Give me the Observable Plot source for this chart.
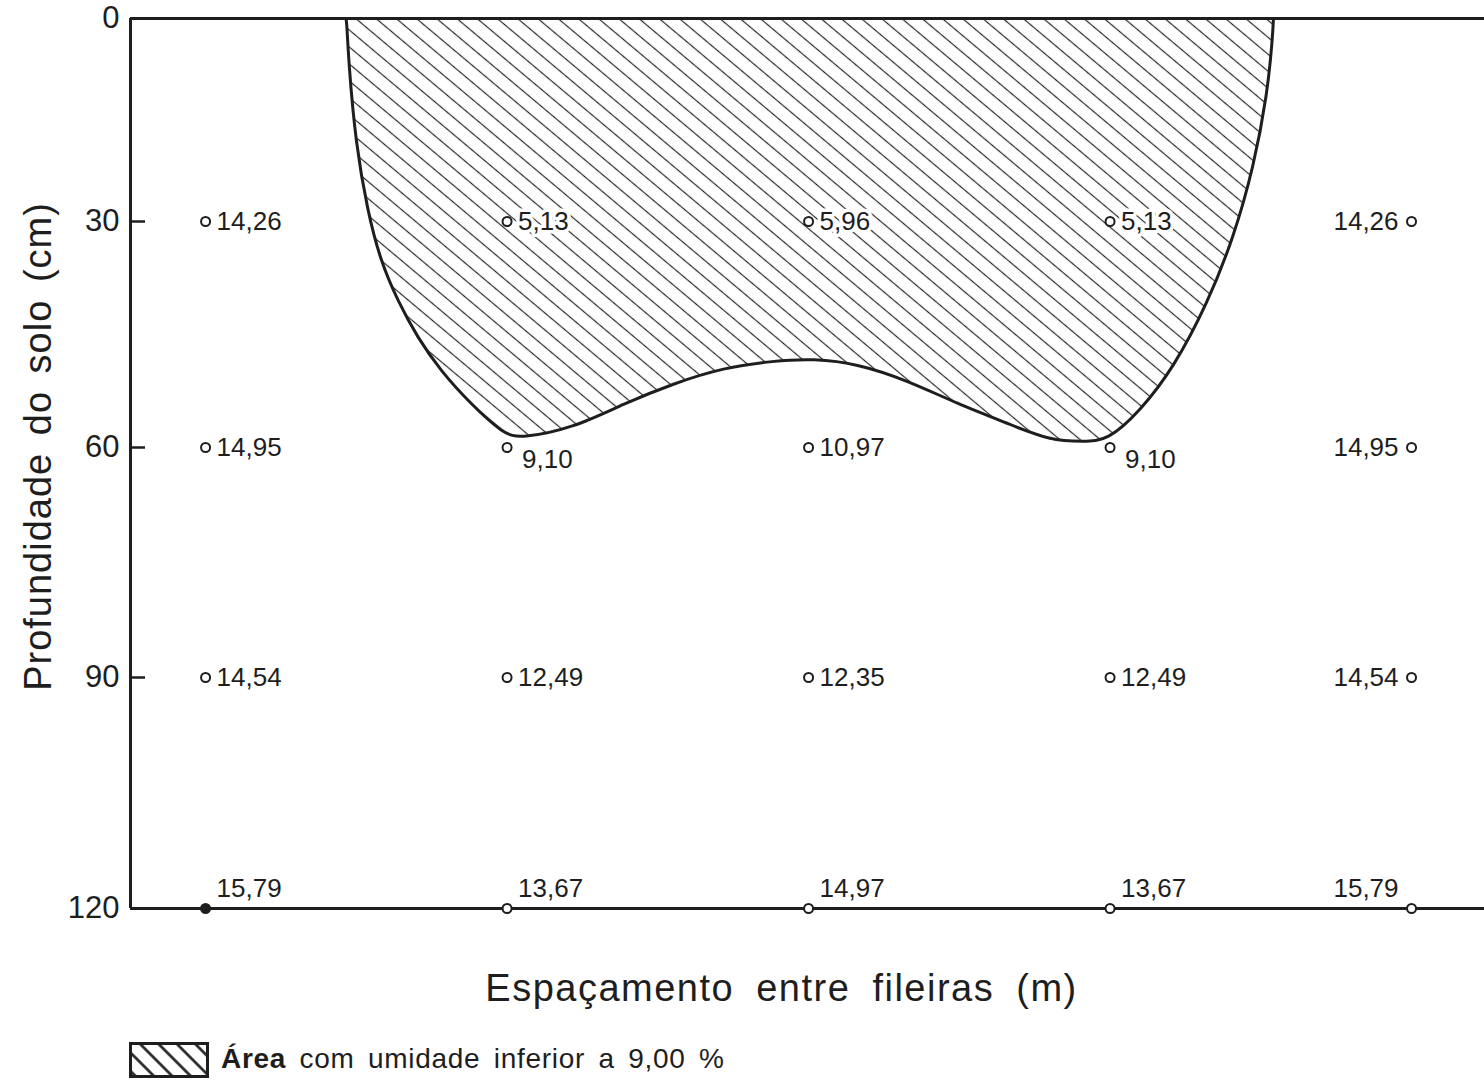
<!DOCTYPE html>
<html>
<head>
<meta charset="utf-8">
<script src="https://cdn.jsdelivr.net/npm/d3@7"></script>
<script src="https://cdn.jsdelivr.net/npm/@observablehq/plot@0.6"></script>
<style>
  html, body { margin: 0; padding: 0; background: #ffffff; }
  #chart { width: 1484px; }
  #legend { position: relative; height: 51px; width: 1484px; font-family: "Liberation Sans", sans-serif; color: #1e1e1e; }
  #legend svg { position: absolute; left: 129px; top: 7px; }
  #legend .txt { position: absolute; left: 221px; top: 8px; font-size: 28px; letter-spacing: 0.7px; word-spacing: 5px; }
</style>
</head>
<body>
<svg width="0" height="0" style="position:absolute">
  <defs>
    <pattern id="hatch" patternUnits="userSpaceOnUse" width="13" height="13" patternTransform="rotate(40)">
      <rect width="13" height="13" fill="#ffffff"></rect>
      <line x1="0" y1="6.5" x2="13" y2="6.5" stroke="#2a2a2a" stroke-width="1.2"></line>
    </pattern>
    <pattern id="hatchLegend" patternUnits="userSpaceOnUse" width="13" height="13" patternTransform="rotate(45)">
      <rect width="13" height="13" fill="#ffffff"></rect>
      <line x1="0" y1="6.5" x2="13" y2="6.5" stroke="#1e1e1e" stroke-width="2.6"></line>
    </pattern>
  </defs>
</svg>
<div id="chart"></div>
<div id="legend">
  <svg width="80" height="36"><rect x="1.5" y="1.5" width="77" height="33" fill="url(#hatchLegend)" stroke="#1e1e1e" stroke-width="3"></rect></svg>
  <div class="txt"><b>Área</b> com umidade inferior a 9,00 %</div>
</div>
<script>
// Posições ao longo do espaçamento entre fileiras (colunas de amostragem)
const posicoes = [0, 1, 2, 3, 4];
// Profundidades amostradas (cm)
const profundidades = [30, 60, 90, 120];
// Umidade do solo (%) em cada profundidade, por posição
const umidade30 = [14.26, 5.13, 5.96, 5.13, 14.26];
const umidade60 = [14.95, 9.10, 10.97, 9.10, 14.95];
const umidade90 = [14.54, 12.49, 12.35, 12.49, 14.54];
const umidade120 = [15.79, 13.67, 14.97, 13.67, 15.79];
// Ticks do eixo de profundidade
const ticksProf = [0, 30, 60, 90, 120];
// Limite da área com umidade inferior a 9,00 % (posição, profundidade)
const limitePos = [0.464, 0.468, 0.474, 0.498, 0.537, 0.580, 0.637, 0.703, 0.779, 0.879, 0.988, 1.045, 1.221, 1.386, 1.552, 1.718, 1.884, 2.017, 2.163, 2.328, 2.494, 2.660, 2.803, 2.912, 2.992, 3.101, 3.211, 3.323, 3.410, 3.476, 3.522, 3.539, 3.542, 3.542];
const limiteProf = [0, 0, 6.2, 18.5, 28.4, 35.2, 40.5, 45.4, 49.8, 54.2, 58.2, 58.8, 57.4, 54.2, 51.5, 49.4, 48.5, 48.2, 48.9, 51.1, 54.2, 56.8, 59.1, 59.2, 59.1, 55.1, 49.4, 40.9, 32.1, 22.0, 11.1, 2.8, 0, 0];

const series = [umidade30, umidade60, umidade90, umidade120];
const pontos = [];
profundidades.forEach((p, i) => {
  posicoes.forEach((x, j) => {
    pontos.push({pos: x, prof: p, valor: series[i][j], col: j});
  });
});
const limite = limitePos.map((x, i) => ({pos: x, prof: limiteProf[i]}));

const fmt = v => v.toFixed(2).replace(".", ",");
const last = posicoes.length - 1;
const isBottom = d => d.prof === profundidades[profundidades.length - 1];
const nearLimit = d => d.prof === 60 && d.valor < 9.5;

const ink = "#1e1e1e";
const font = "Liberation Sans, Arial, sans-serif";
const yTitle = "Profundidade do solo (cm)";
const xTitle = "Espaçamento entre fileiras (m)";

const lblStart = pontos.filter(d => d.col !== last && !isBottom(d) && !nearLimit(d));
const lblEnd = pontos.filter(d => d.col === last && !isBottom(d));
const lblLimit = pontos.filter(d => nearLimit(d));
const lblBottomStart = pontos.filter(d => isBottom(d) && d.col !== last);
const lblBottomEnd = pontos.filter(d => isBottom(d) && d.col === last);

const xDomain = [-0.249, 4.242];
const halo = {stroke: "#ffffff", strokeWidth: 7, paintOrder: "stroke"};

const chart = Plot.plot({
  width: 1484,
  height: 1035,
  marginLeft: 130,
  marginRight: 0,
  marginTop: 18,
  marginBottom: 127,
  style: {fontFamily: font, fontSize: "30px", color: ink, background: "#ffffff"},
  x: {domain: xDomain, axis: null},
  y: {type: "linear", domain: [0, 30, 60, 90, 120], range: [18, 221, 447, 677, 908], axis: null},
  marks: [
    Plot.areaY(limite, {x: "pos", y: "prof", fill: "url(#hatch)", curve: "basis"}),
    Plot.line(limite, {x: "pos", y: "prof", stroke: ink, strokeWidth: 3, curve: "basis"}),
    Plot.ruleY([0, 120], {stroke: ink, strokeWidth: 3}),
    Plot.ruleX([xDomain[0]], {stroke: ink, strokeWidth: 3}),
    // inward ticks
    Plot.axisY({ticks: ticksProf, tickSize: 15, dx: 15, tickFormat: () => "", label: null, stroke: ink, strokeWidth: 2.5}),
    // tick labels
    Plot.axisY({ticks: ticksProf, tickSize: 0, tickPadding: 11, label: null, fontSize: 31, fill: ink}),
    Plot.dot(pontos, {x: "pos", y: "prof", r: 4.5, stroke: ink, strokeWidth: 2,
      fill: d => (isBottom(d) && d.col === 0) ? ink : "#ffffff"}),
    Plot.text(lblStart, {x: "pos", y: "prof", text: d => fmt(d.valor), textAnchor: "start", dx: 11, fontSize: 26, fill: ink, ...halo}),
    Plot.text(lblEnd, {x: "pos", y: "prof", text: d => fmt(d.valor), textAnchor: "end", dx: -13, fontSize: 26, fill: ink}),
    Plot.text(lblLimit, {x: "pos", y: "prof", text: d => fmt(d.valor), textAnchor: "start", dx: 15, dy: 12, fontSize: 26, fill: ink}),
    Plot.text(lblBottomStart, {x: "pos", y: "prof", text: d => fmt(d.valor), textAnchor: "start", dx: 11, dy: -20, fontSize: 26, fill: ink}),
    Plot.text(lblBottomEnd, {x: "pos", y: "prof", text: d => fmt(d.valor), textAnchor: "end", dx: -13, dy: -20, fontSize: 26, fill: ink}),
    Plot.text([yTitle], {frameAnchor: "left", text: d => d, rotate: -90, textAnchor: "middle", dx: -92, dy: -17, fontSize: 38, fill: ink}),
    Plot.text([xTitle], {frameAnchor: "bottom", text: d => d, textAnchor: "middle", dx: -26, dy: 92, fontSize: 38, fill: ink})
  ]
});
d3.select(chart).selectAll("text").each(function() {
  if (this.textContent === xTitle) {
    d3.select(this).attr("letter-spacing", "1.5px").attr("word-spacing", "10px");
  } else if (this.textContent === yTitle) {
    d3.select(this).attr("letter-spacing", "1px").attr("word-spacing", "6px");
  }
});
document.getElementById("chart").appendChild(chart);
</script>
</body>
</html>
